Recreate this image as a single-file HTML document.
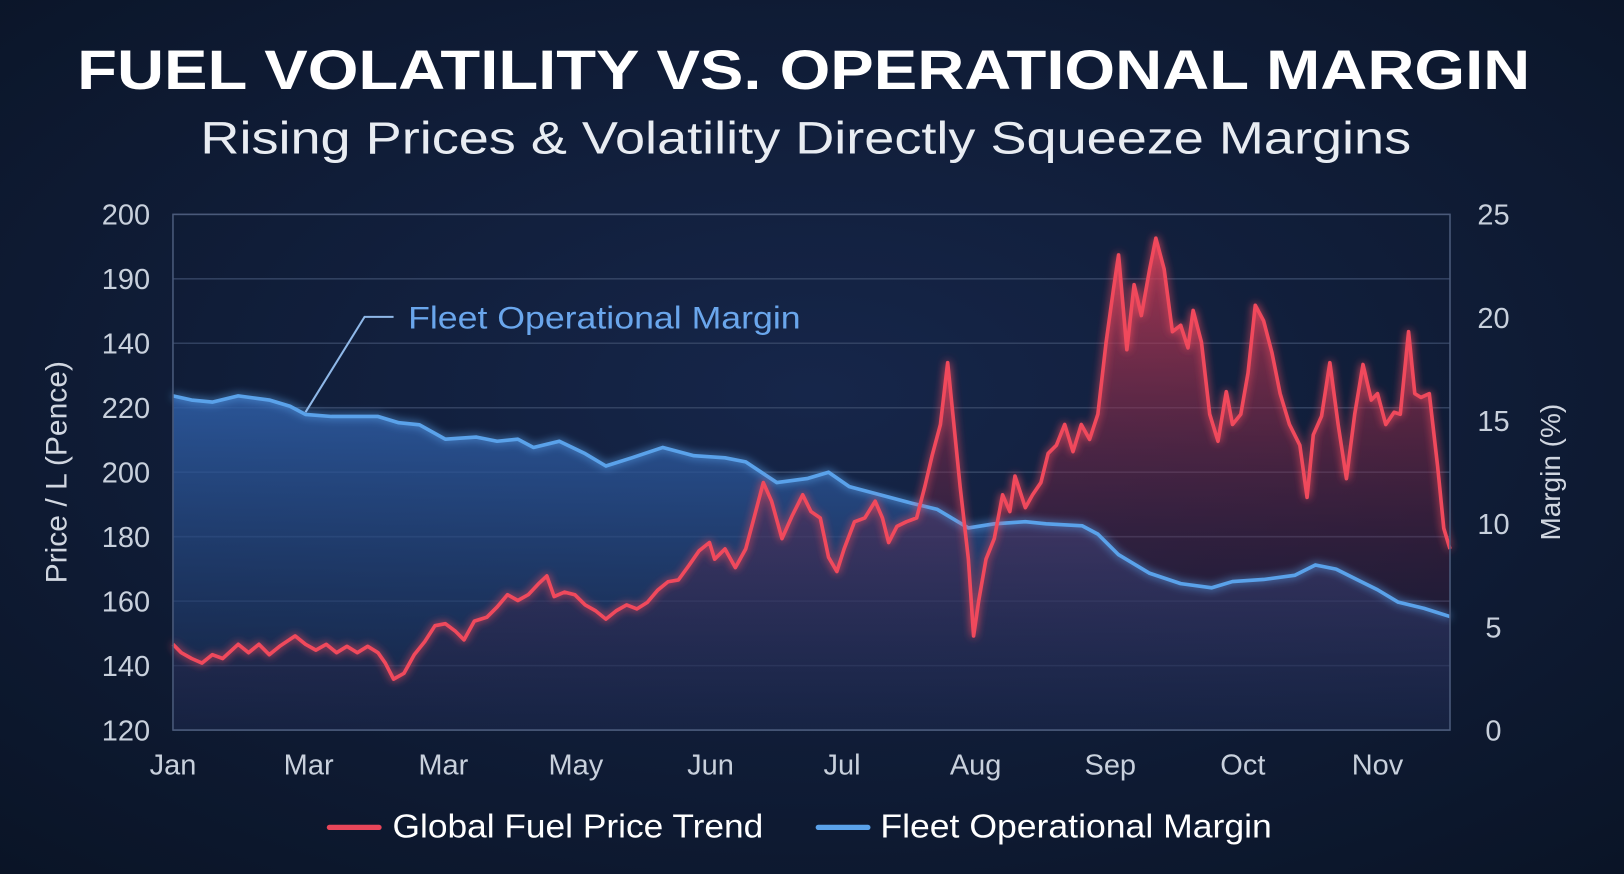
<!DOCTYPE html>
<html><head><meta charset="utf-8"><style>
html,body{margin:0;padding:0;background:#0e1a2e;}
svg{display:block;font-family:"Liberation Sans",sans-serif;}
</style></head><body>
<svg id="chart" width="1624" height="874" viewBox="0 0 1568 844" preserveAspectRatio="none" xmlns="http://www.w3.org/2000/svg">
<defs>
<radialGradient id="bg" cx="50%" cy="45%" r="75%"><stop offset="0" stop-color="#16264a"/><stop offset="1" stop-color="#0a1426"/></radialGradient>
<linearGradient id="blueFill" x1="0" y1="0" x2="0" y2="1"><stop offset="0" stop-color="#2f5fa8" stop-opacity="0.85"/><stop offset="1" stop-color="#1a2c52" stop-opacity="0.5"/></linearGradient>
<linearGradient id="redFill" x1="0" y1="0" x2="0" y2="1"><stop offset="0" stop-color="#e0405a" stop-opacity="0.75"/><stop offset="0.6" stop-color="#6a2040" stop-opacity="0.35"/><stop offset="1" stop-color="#2a1a3a" stop-opacity="0.1"/></linearGradient>
<filter id="glow" x="-5%" y="-5%" width="110%" height="110%"><feGaussianBlur stdDeviation="4" result="b"/><feMerge><feMergeNode in="b"/><feMergeNode in="SourceGraphic"/></feMerge></filter>
</defs>
<rect width="1568" height="844" fill="url(#bg)"/>
<text x="776" y="86" text-anchor="middle" fill="#ffffff" font-weight="bold" font-size="54" textLength="1403" lengthAdjust="spacingAndGlyphs">FUEL VOLATILITY VS. OPERATIONAL MARGIN</text>
<text x="778" y="148" text-anchor="middle" fill="#e8ecf2" font-size="44" textLength="1169" lengthAdjust="spacingAndGlyphs">Rising Prices &amp; Volatility Directly Squeeze Margins</text>
<g id="grid"></g>
<g id="areas"></g>
<g id="lines"></g>
<g id="axes"></g>
<text x="0" y="0" transform="translate(64,456) rotate(-90)" text-anchor="middle" fill="#d0d6e0" font-size="29">Price / L (Pence)</text>
<text x="0" y="0" transform="translate(1506,456) rotate(-90)" text-anchor="middle" fill="#d0d6e0" font-size="27">Margin (%)</text>
<g>
<polyline points="380,306 352,306 295,398" fill="none" stroke="#8fb8e8" stroke-width="2"/>
<text x="394" y="317" fill="#6aa6ec" font-size="30" textLength="379" lengthAdjust="spacingAndGlyphs">Fleet Operational Margin</text>
</g>
<g>
<g><line x1="318" y1="799" x2="366" y2="799" stroke="#e8465a" stroke-width="5" stroke-linecap="round"/><text x="379" y="809" fill="#ffffff" font-size="32" textLength="358" lengthAdjust="spacingAndGlyphs">Global Fuel Price Trend</text></g>
<g><line x1="790" y1="799" x2="838" y2="799" stroke="#5aa2ea" stroke-width="5" stroke-linecap="round"/><text x="850" y="809" fill="#ffffff" font-size="32" textLength="378" lengthAdjust="spacingAndGlyphs">Fleet Operational Margin</text></g>
</g>
</svg>
<script>
const priceT = [0,8,18,28,38,48,63,73,83,93,103,118,128,138,148,158,168,178,188,198,205,213,223,233,243,253,263,273,281,291,303,313,323,333,343,353,361,368,378,388,398,408,418,428,438,448,458,468,478,488,498,508,518,523,533,543,553,561,570,578,588,598,608,616,625,633,641,648,658,668,678,685,691,699,708,718,726,733,741,748,753,760,768,773,778,785,793,801,808,813,823,830,838,845,853,861,869,877,885,893,901,908,913,921,928,935,943,949,957,965,973,980,985,993,1001,1009,1017,1023,1031,1038,1045,1053,1061,1069,1078,1088,1095,1101,1109,1117,1125,1133,1141,1149,1157,1163,1171,1179,1185,1193,1199,1205,1213,1221,1227,1233];
const priceVals = [133.3,132.0,131.1,130.4,131.7,131.1,133.3,132.0,133.3,131.7,133.0,134.6,133.3,132.4,133.3,132.0,133.0,132.0,133.0,132.0,130.4,127.9,128.8,131.7,133.7,136.2,136.5,135.3,134.0,136.9,137.5,139.1,141.0,140.1,141.0,142.7,143.9,140.7,141.4,141.0,139.4,138.5,137.2,138.5,139.4,138.8,139.8,141.7,143.0,143.3,145.5,147.8,149.1,146.5,148.1,145.2,148.1,152.9,158.4,155.5,149.7,153.3,156.5,153.9,152.9,146.8,144.6,148.1,152.3,152.9,155.5,152.9,149.1,151.6,152.3,152.9,157.8,162.6,167.4,177.0,169.0,157.8,146.5,134.6,140.1,146.5,149.7,156.5,153.9,159.4,154.5,156.5,158.4,162.9,164.2,167.4,163.2,167.4,165.1,169.0,180.2,188.3,193.7,179.0,189.1,184.3,191.5,196.3,191.5,181.8,182.8,179.3,185.1,180.2,169.0,164.8,172.5,167.4,169.0,175.4,185.9,183.5,178.6,172.2,167.4,164.2,156.1,165.8,168.7,177.0,167.4,159.0,169.0,176.7,171.2,172.2,167.4,169.3,169.0,181.8,172.2,171.6,172.2,161.0,151.3,148.1];
const marginT = [0,18,38,63,93,113,128,153,178,198,218,238,263,293,313,333,348,373,398,418,443,473,503,533,553,583,613,633,653,683,713,738,768,793,823,843,878,893,913,943,973,1003,1023,1053,1083,1103,1123,1143,1163,1183,1208,1233];
const marginVals = [16.2,16.0,15.9,16.2,16.0,15.7,15.3,15.2,15.2,15.2,14.9,14.8,14.1,14.2,14.0,14.1,13.7,14.0,13.4,12.8,13.2,13.7,13.3,13.2,13.0,12.0,12.2,12.5,11.8,11.4,11.0,10.7,9.8,10.0,10.1,10.0,9.9,9.5,8.5,7.6,7.1,6.9,7.2,7.3,7.5,8.0,7.8,7.3,6.8,6.2,5.9,5.5];
const leftTickLabels = ["200","190","140","220","200","180","160","140","120"];
const rightTickLabels = ["25","20","15","10","5","0"];
const monthLabels = ["Jan","Mar","Mar","May","Jun","Jul","Aug","Sep","Oct","Nov"];
const monthT = [0,131,261,389,519,646,775,905,1033,1163];

const X0=167,X1=1400,Y0=705,Y1=207;
const xs = t => X0 + t/1233*(X1-X0);
const yPrice = v => Y0 - (v-120)/80*(Y0-Y1);
const yMargin = v => Y0 - v/25*(Y0-Y1);
const NS="http://www.w3.org/2000/svg";
function mk(tag, parent, attrs){const e=document.createElementNS(NS,tag);for(const k in attrs)e.setAttribute(k,attrs[k]);parent.appendChild(e);return e;}
const grid=document.getElementById('grid'),areas=document.getElementById('areas'),lines=document.getElementById('lines'),axes=document.getElementById('axes');

leftTickLabels.forEach((lab,i)=>{
  const y=Y1+i*(Y0-Y1)/(leftTickLabels.length-1);
  const g=mk('line',grid,{x1:X0,x2:X1,y1:y,y2:y,stroke:'#3a4a6a','stroke-width':1.5,opacity:0.8});
  
  
  const t=mk('text',axes,{x:145,y:y+10,'text-anchor':'end',fill:'#c8d0dc','font-size':28});
  t.textContent=lab;
  
  
});
rightTickLabels.forEach((lab,i)=>{
  const y=Y1+i*(Y0-Y1)/(rightTickLabels.length-1);
  const t=mk('text',axes,{x:1442,y:y+10,'text-anchor':'middle',fill:'#c8d0dc','font-size':28});
  t.textContent=lab;
  
  
});
monthLabels.forEach((lab,i)=>{
  const t=mk('text',axes,{x:xs(monthT[i]),y:748,'text-anchor':'middle',fill:'#c8d0dc','font-size':28});
  t.textContent=lab;
  
  
});
const frame=mk('rect',axes,{x:X0,y:Y1,width:X1-X0,height:Y0-Y1,fill:'none',stroke:'#4a5a7a','stroke-width':1.5});



const mPts=marginT.map((t,i)=>[xs(t),yMargin(marginVals[i])]);
const pPts=priceT.map((t,i)=>[xs(t),yPrice(priceVals[i])]);
const toD=p=>p.map((q,i)=>(i?'L':'M')+q[0].toFixed(1)+','+q[1].toFixed(1)).join('');
const ba=mk('path',areas,{d:toD(mPts)+`L${X1},${Y0}L${X0},${Y0}Z`,fill:'url(#blueFill)'});


const ra=mk('path',areas,{d:toD(pPts)+`L${X1},${Y0}L${X0},${Y0}Z`,fill:'url(#redFill)'});


const bl=mk('path',lines,{d:toD(mPts),fill:'none',stroke:'#5aa2ea','stroke-width':3.5,'stroke-linejoin':'round',filter:'url(#glow)'});


const rl=mk('path',lines,{d:toD(pPts),fill:'none',stroke:'#f0485c','stroke-width':3.5,'stroke-linejoin':'round',filter:'url(#glow)'});


</script>
</body></html>
